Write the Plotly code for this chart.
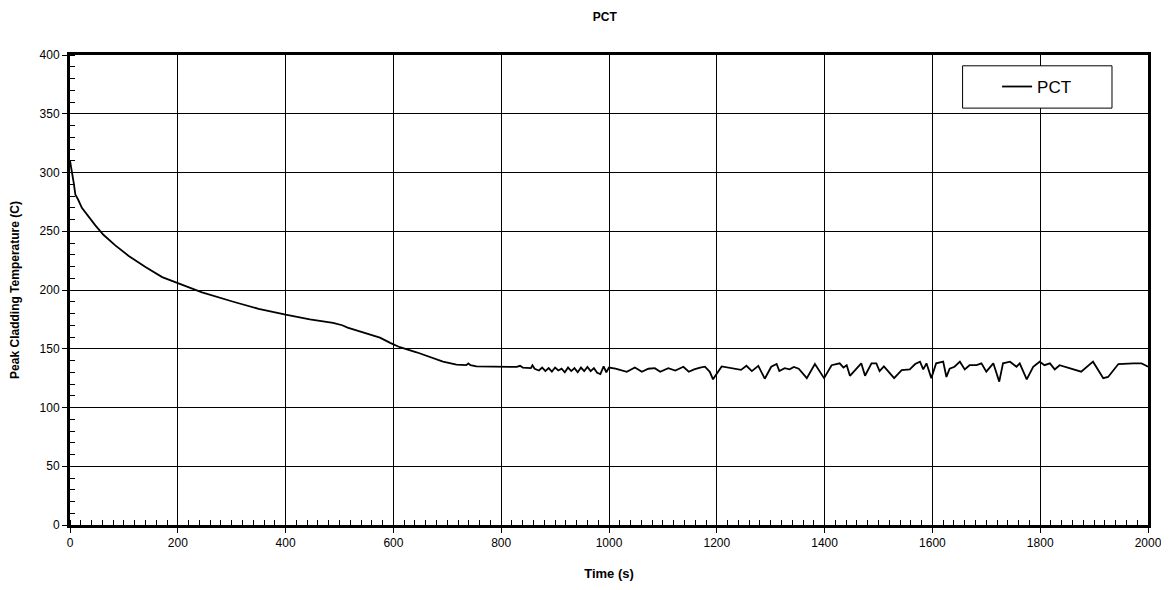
import plotly.graph_objects as go

time_s = [0, 3, 7, 10, 15, 22, 35, 47, 62, 84, 109, 140, 171, 200, 245, 303, 350, 400, 445, 488,
          505, 515, 529, 545, 560, 575, 594, 612, 643, 668, 692, 717, 735, 739, 743, 754, 779, 800,
          829, 835, 840, 855, 858, 862, 870, 876, 882, 888, 894, 900, 906, 912, 918, 924, 930, 936,
          942, 948, 954, 960, 966, 972, 978, 984, 990, 995, 1000, 1012, 1024, 1033, 1048, 1061, 1073,
          1085, 1095, 1110, 1123, 1138, 1148, 1158, 1169, 1178, 1187, 1193, 1209, 1224, 1235, 1245,
          1255, 1265, 1277, 1289, 1301, 1311, 1316, 1326, 1335, 1343, 1352, 1367, 1382, 1399, 1413,
          1428, 1435, 1441, 1447, 1459, 1468, 1475, 1487, 1496, 1502, 1510, 1529, 1543, 1558, 1568,
          1577, 1583, 1589, 1598, 1607, 1620, 1626, 1632, 1641, 1651, 1660, 1669, 1682, 1691, 1700,
          1713, 1724, 1731, 1744, 1756, 1762, 1775, 1787, 1799, 1808, 1818, 1827, 1836, 1846, 1864,
          1876, 1898, 1917, 1926, 1945, 1973, 1988, 1995, 2000]
pct_c = [310, 303, 291, 281, 277, 270, 262, 255, 247, 238, 229, 219.5, 211, 206, 198, 190, 184, 179, 175, 172,
         170, 168, 166, 164, 162, 159.5, 155, 151.3, 147, 142.7, 139, 136.5, 136, 137.5, 136, 135, 135, 134.5,
         134.5, 135.5, 134, 133.5, 136, 133, 131.5, 134, 131, 133.5, 130.5, 134, 131.5, 133, 130, 134, 131, 133.5,
         130, 134, 131, 134.5, 131, 133.5, 129.5, 128.5, 135, 130, 134, 133, 131.8, 130.4, 134, 130.4, 133,
         133.5, 130.4, 133.5, 131.5, 134.7, 130.4, 132.5, 134, 134.7, 130.4, 124, 135, 133.5, 132.5, 132,
         135.5, 131, 135.5, 124.5, 134.7, 137, 131, 133.5, 132.5, 134.5, 133, 125, 137, 125, 136,
         137.6, 134, 136, 127, 133, 137.6, 127, 137.6, 137.6, 131, 135, 125, 131.8, 132.4, 137,
         139, 132.4, 137.6, 125, 137.6, 139, 126, 133, 134.7, 139, 132.4, 136, 136, 137.6, 130.5,
         137.6, 122, 137.6, 139, 134.7, 137.6, 124, 134.7, 139, 136, 137.6, 132.4, 136, 134.7, 132.4,
         130.5, 139, 125, 126, 137, 137.6, 137.6, 136, 134.7]

x_ticks = list(range(0, 2001, 200))
y_ticks = list(range(0, 401, 50))

fig = go.Figure()
fig.add_trace(go.Scatter(x=time_s, y=pct_c, mode="lines", name="PCT",
                         line=dict(color="black", width=1.8)))

axis_common = dict(
    showline=True, linecolor="black", linewidth=3, mirror=True,
    showgrid=True, gridcolor="black", gridwidth=1,
    ticks="outside", ticklen=5, tickcolor="black", tickwidth=1,
    zeroline=False, automargin=False,
    tickfont=dict(family="Arial, Liberation Sans", size=12, color="black"),
)

fig.update_xaxes(range=[0, 2000], tickvals=x_ticks, ticktext=[str(v) for v in x_ticks],
                 minor=dict(dtick=20, ticks="inside", ticklen=5, tickcolor="black", showgrid=False),
                 title=dict(text="<b>Time (s)</b>", font=dict(family="Arial, Liberation Sans", size=13, color="black"),
                            standoff=20),
                 **axis_common)
fig.update_yaxes(range=[0, 400], tickvals=y_ticks, ticktext=[str(v) for v in y_ticks],
                 minor=dict(dtick=10, ticks="inside", ticklen=5, tickcolor="black", showgrid=False),
                 title=dict(text="<b>Peak Cladding Temperature (C)</b>",
                            font=dict(family="Arial, Liberation Sans", size=12, color="black"), standoff=22),
                 **axis_common)

# legend frame (white box hiding the grid, as in the reference)
fig.add_shape(type="rect", xref="paper", yref="paper",
              x0=0.828, x1=0.9666, y0=0.887, y1=0.977,
              line=dict(color="black", width=1), fillcolor="white", layer="above")

# page body adds an 8px offset, so the figure is 8px smaller than the window
fig.update_layout(
    width=1161, height=582,
    margin=dict(l=62, r=21, t=47, b=65),
    paper_bgcolor="white", plot_bgcolor="white",
    title=dict(text="<b>PCT</b>", x=0.514, xanchor="center", y=0.985, yanchor="middle",
               font=dict(family="Arial, Liberation Sans", size=12, color="black")),
    showlegend=True,
    legend=dict(x=0.86, xanchor="left", y=0.932, yanchor="middle",
                bgcolor="rgba(0,0,0,0)", borderwidth=0,
                font=dict(family="Arial, Liberation Sans", size=17, color="black"),
                itemwidth=30),
)

fig.write_html("out.html")
